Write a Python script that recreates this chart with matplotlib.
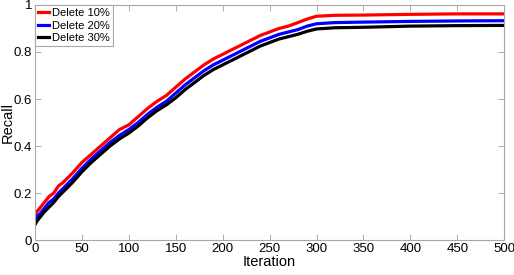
import numpy as np
import matplotlib.pyplot as plt

plt.rcParams['font.family'] = ['Liberation Sans', 'DejaVu Sans']

# data
iters = [0, 2, 5, 10, 15, 20, 25, 30, 40, 50, 60, 70, 80, 90, 100, 110, 120, 130,
         140, 150, 160, 170, 180, 190, 200, 210, 220, 230, 240, 250, 260, 270,
         280, 290, 300, 320, 350, 400, 450, 500]
recall_10 = [0.105, 0.12, 0.135, 0.16, 0.185, 0.20, 0.23, 0.245, 0.285, 0.33, 0.365,
             0.40, 0.435, 0.47, 0.49, 0.525, 0.56, 0.59, 0.615, 0.65, 0.685, 0.715,
             0.745, 0.77, 0.79, 0.81, 0.83, 0.85, 0.87, 0.885, 0.90, 0.91, 0.925,
             0.94, 0.952, 0.956, 0.957, 0.960, 0.962, 0.962]
recall_20 = [0.085, 0.10, 0.11, 0.135, 0.16, 0.175, 0.20, 0.22, 0.26, 0.305, 0.345,
             0.38, 0.415, 0.445, 0.47, 0.50, 0.535, 0.565, 0.59, 0.625, 0.66, 0.69,
             0.72, 0.745, 0.765, 0.785, 0.805, 0.825, 0.845, 0.86, 0.875, 0.885,
             0.895, 0.91, 0.92, 0.925, 0.927, 0.93, 0.932, 0.933]
recall_30 = [0.065, 0.08, 0.095, 0.12, 0.14, 0.16, 0.185, 0.205, 0.245, 0.29, 0.33,
             0.365, 0.40, 0.43, 0.455, 0.485, 0.52, 0.55, 0.575, 0.605, 0.64, 0.67,
             0.70, 0.725, 0.745, 0.765, 0.785, 0.805, 0.825, 0.84, 0.855, 0.865,
             0.875, 0.888, 0.898, 0.903, 0.905, 0.91, 0.912, 0.913]
labels = ['Delete 10%', 'Delete 20%', 'Delete 30%']
colors = ['#ff0000', '#0000ff', '#000000']

fig = plt.figure(figsize=(5.14, 2.75), dpi=100)
ax = fig.add_axes([0.068, 0.127, 0.913, 0.855])

for y, lab, c in zip([recall_10, recall_20, recall_30], labels, colors):
    ax.plot(iters, y, color=c, lw=2.3, label=lab)

ax.set_xlim(0, 500)
ax.set_ylim(0, 1)
ax.set_xticks(np.arange(0, 501, 50))
ax.set_yticks([0, 0.2, 0.4, 0.6, 0.8, 1])
ax.set_yticklabels(['0', '0.2', '0.4', '0.6', '0.8', '1'])
ax.tick_params(direction='in', length=4, width=0.6, color='#a0a0a0',
               labelsize=9.5, top=True, right=True, pad=2)
for s in ax.spines.values():
    s.set_color('#a8a8a8')
    s.set_linewidth(0.8)

ax.set_xlabel('Iteration', fontsize=10.5, labelpad=0)
ax.set_ylabel('Recall', fontsize=10.5)
ax.yaxis.set_label_coords(-0.044, 0.5)

leg = ax.legend(loc='upper left', fontsize=8, borderaxespad=0, fancybox=False,
                edgecolor='#a8a8a8', framealpha=1, handlelength=1.0,
                handletextpad=0.3, borderpad=0.25, labelspacing=0.25)
leg.get_frame().set_linewidth(0.8)

fig.savefig('out.png', dpi=100)
